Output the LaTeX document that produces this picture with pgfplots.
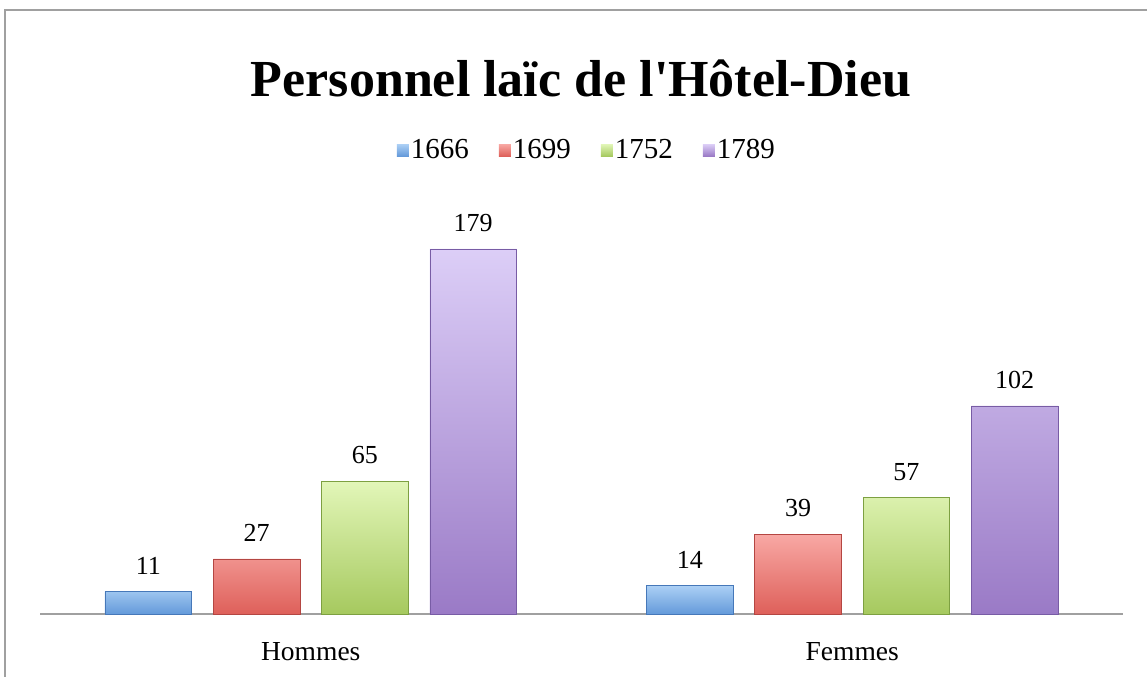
\documentclass[border=0pt]{standalone}
\usepackage{fontspec}
\setmainfont{Liberation Serif}
\usepackage{pgfplots}
\pgfplotsset{compat=1.18}
\definecolor{framegray}{RGB}{160,160,160}
\definecolor{bT}{RGB}{172,208,245}\definecolor{bB}{RGB}{100,154,218}\definecolor{bD}{RGB}{70,120,185}
\definecolor{rT}{RGB}{248,168,164}\definecolor{rB}{RGB}{222,96,90}\definecolor{rD}{RGB}{180,70,66}
\definecolor{gT}{RGB}{226,246,184}\definecolor{gB}{RGB}{166,201,95}\definecolor{gD}{RGB}{125,160,65}
\definecolor{pT}{RGB}{220,206,247}\definecolor{pB}{RGB}{154,122,198}\definecolor{pD}{RGB}{120,92,165}
\pgfplotsset{mylegend/.style={legend image code/.code={\path[##1, draw=none] (0bp,-6bp) rectangle (12bp,6bp);}}}
\begin{document}
\begin{tikzpicture}[x=1bp,y=1bp]
\path[use as bounding box] (0,0) rectangle (1147,677);
\draw[framegray, line width=2.5bp] (5,0) -- (5,667) -- (1148,667);
\node[font=\fontsize{52bp}{60bp}\selectfont\bfseries] at (581,599) {Personnel laïc de l\textquotesingle H\^otel-Dieu};
\begin{axis}[
  at={(310.75bp,63bp)}, anchor=origin, scale only axis,
  width=1083bp, height=408bp,
  xmin=-0.5, xmax=1.5, ymin=0, ymax=200,
  ybar, bar width=0.16,
  axis x line=bottom, axis y line=none,
  axis line style={-, draw=framegray, line width=2bp},
  xtick={0,1}, xticklabels={Hommes,Femmes},
  major tick length=0pt,
  /pgf/number format/assume math mode=true,
  xticklabel style={font=\fontsize{27.5bp}{31bp}\selectfont, anchor=center, yshift=-38bp},
  nodes near coords,
  every node near coord/.append style={font=\fontsize{26bp}{30bp}\selectfont, anchor=center, yshift=26bp, text=black},
  legend style={at={(0.505,1.137)}, anchor=center, draw=none, fill=none,
    font=\fontsize{29bp}{33bp}\selectfont,
    /tikz/every even column/.append style={column sep=28bp}},
  legend columns=4,
  clip=false,
]
\addplot[bar shift=-0.3, top color=bT, bottom color=bB, draw=bD, line width=0.6bp, mylegend] coordinates {(0,11) (1,14)};
\addplot[bar shift=-0.1, top color=rT, bottom color=rB, draw=rD, line width=0.6bp, mylegend] coordinates {(0,27) (1,39)};
\addplot[bar shift=0.1, top color=gT, bottom color=gB, draw=gD, line width=0.6bp, mylegend] coordinates {(0,65) (1,57)};
\addplot[bar shift=0.3, top color=pT, bottom color=pB, draw=pD, line width=0.6bp, mylegend] coordinates {(0,179) (1,102)};
\legend{1666,1699,1752,1789}
\end{axis}
\end{tikzpicture}
\end{document}
